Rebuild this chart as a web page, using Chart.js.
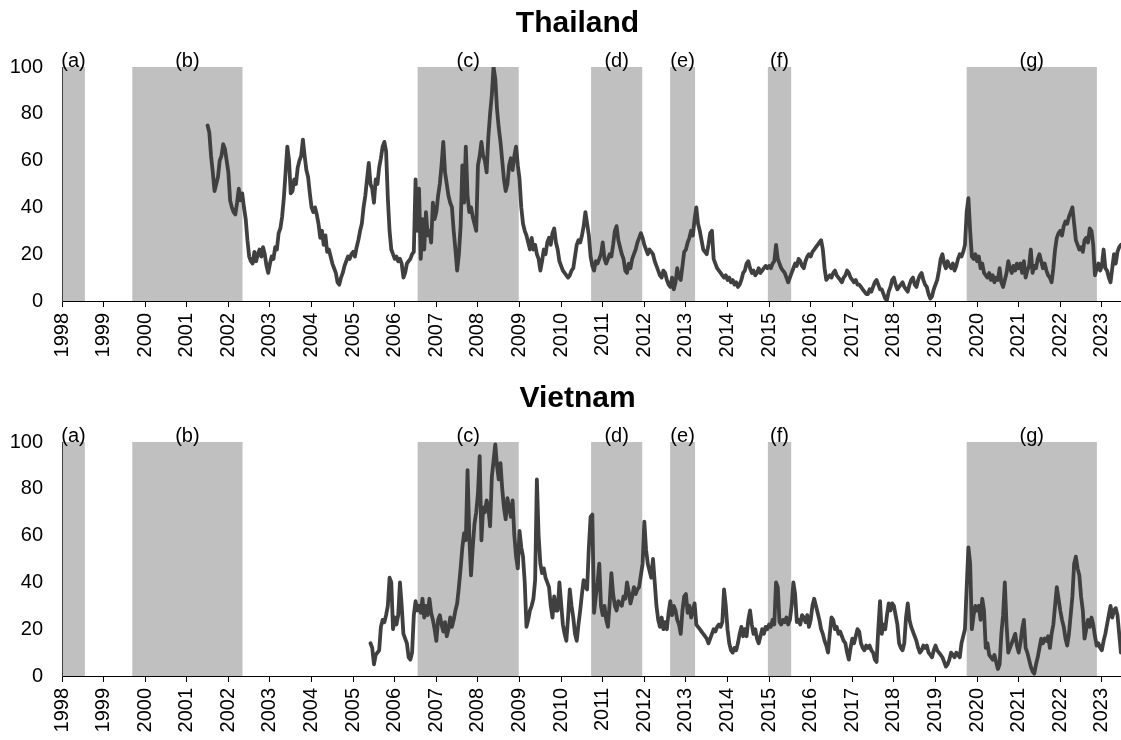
<!DOCTYPE html>
<html><head><meta charset="utf-8">
<script src="https://cdn.jsdelivr.net/npm/chart.js@4.4.1/dist/chart.umd.min.js"></script>
<style>
html,body{margin:0;padding:0;background:#fff;}
#wrap{position:relative;width:1121px;height:740px;overflow:hidden;background:#fff;}
.panel{position:absolute;left:0;width:1121px;height:361px;}
</style></head><body>
<div id="wrap">
<div class="panel" style="top:0"><canvas id="thai" width="1121" height="361"></canvas></div>
<div class="panel" style="top:375px"><canvas id="viet" width="1121" height="361"></canvas></div>
</div>
<script>
// ---- data ----
const samplesPerYear = 24;           // semi-monthly readings
const xMin = 1998, xMax = 2023.46;   // axis range (years)
const thaiStart = 2001.5;            // first Thailand reading
const vietStart = 2005 + 10/24;      // first Vietnam reading

const thaiValues = [
  75,72,62,55,47,50,53,60,62,67,65,60,                                     // 2001 H2
  55,43,40,38,37,42,48,43,46,40,35,26,19,17,16,21,17,20,22,19,23,20,15,12, // 2002
  16,19,18,23,22,29,31,36,44,55,66,60,46,47,52,50,57,60,62,69,62,56,53,46, // 2003
  40,38,40,37,33,27,30,24,28,21,22,19,16,14,12,8,7,10,12,15,17,19,18,20,   // 2004
  21,19,23,26,30,33,40,45,52,59,50,48,42,52,50,57,61,66,68,64,44,30,22,20, // 2005
  18,19,17,18,16,10,12,16,17,18,20,21,52,30,48,18,35,22,38,28,30,25,42,35, // 2006
  38,45,50,58,68,55,50,45,42,40,30,22,13,20,32,58,42,66,45,38,40,36,33,30, // 2007
  58,62,68,62,60,55,70,80,88,100,95,82,74,68,60,52,47,50,58,61,56,62,66,58,// 2008
  52,40,33,30,28,25,22,27,22,24,20,18,13,17,22,20,25,27,24,29,31,25,22,17, // 2009
  15,13,12,11,10,11,13,14,19,24,26,25,28,32,38,33,28,19,15,13,17,16,18,20, // 2010
  25,18,16,18,20,19,24,30,32,26,23,20,18,13,12,16,14,18,20,22,25,27,29,27, // 2011
  24,22,20,22,21,20,17,15,13,11,10,13,12,9,7,6,10,5,8,14,10,9,15,21,       // 2012
  22,25,27,30,28,35,40,33,30,26,22,21,20,24,29,30,18,16,14,13,12,11,10,11, // 2013
  9,10,8,9,7,8,6,7,9,12,13,16,17,14,12,13,11,12,14,12,13,14,15,14,         // 2014
  15,14,16,17,24,18,16,14,13,12,10,8,10,12,14,16,15,18,17,15,14,17,19,20,  // 2015
  19,21,22,23,24,25,26,22,14,9,10,11,10,12,13,11,10,9,8,10,11,13,12,10,    // 2016
  9,8,9,7,7,6,5,4,3,3,5,4,6,8,9,7,5,5,3,1,0.5,4,6,9,                       // 2017
  10,7,5,6,7,8,6,5,4,7,9,10,7,6,9,11,12,9,7,6,3,1,2,5,                     // 2018
  7,9,13,18,20,16,14,17,15,14,16,13,15,18,20,19,21,24,38,44,30,19,18,20,   // 2019
  17,19,14,16,12,11,10,12,9,11,8,10,9,14,8,6,9,12,17,14,12,15,13,16,       // 2020
  14,16,12,17,10,13,15,22,12,15,14,18,20,17,14,16,13,11,10,8,14,22,27,29,  // 2021
  30,28,32,34,33,36,38,40,33,26,24,22,23,21,26,27,25,31,30,24,11,14,16,13, // 2022
  15,22,14,13,10,8,14,20,16,21,23,24                                       // 2023 H1
];

const vietValues = [
  14,12,5,9,10,11,21,24,23,26,30,42,40,20,                                 // 2005
  25,22,26,40,30,18,16,14,8,7,10,26,32,28,30,27,33,25,30,26,33,27,24,20,   // 2006
  15,24,26,22,19,23,17,20,25,21,24,28,31,38,46,55,61,58,88,60,43,55,65,70, // 2007
  78,94,58,72,70,75,72,64,85,92,99,90,84,91,80,72,67,76,72,68,75,60,51,46, // 2008
  62,55,51,40,21,24,28,30,33,41,84,60,48,44,46,42,40,38,30,25,34,28,28,40, // 2009
  31,22,18,15,25,37,30,25,18,15,22,28,35,41,38,37,55,68,69,27,34,40,48,30, // 2010
  26,30,24,21,31,44,35,30,28,32,31,30,34,33,40,36,31,34,38,35,37,38,43,48, // 2011
  66,54,48,45,42,50,40,30,24,21,25,20,23,20,27,32,26,30,28,24,22,18,28,34, // 2012
  35,27,30,25,28,31,22,21,20,19,18,17,16,14,16,18,20,19,21,22,21,23,37,30, // 2013
  20,14,11,10,12,11,14,18,21,17,20,17,24,28,22,18,20,16,14,17,20,18,21,20, // 2014
  22,21,24,22,40,38,23,22,24,23,25,22,24,30,40,35,23,24,22,26,25,23,26,21, // 2015
  24,30,33,30,27,24,20,18,15,13,10,18,25,24,20,21,18,19,17,15,14,10,7,12,  // 2016
  16,14,17,20,19,14,12,11,13,12,13,11,10,7,6,20,32,18,22,20,26,31,28,31,   // 2017
  30,26,22,14,12,11,14,25,31,24,21,19,17,15,12,10,11,13,12,13,10,9,8,11,   // 2018
  13,11,10,9,8,6,4,5,7,10,9,8,10,9,8,14,17,20,38,55,48,20,26,30,           // 2019
  28,30,24,33,28,12,14,9,8,7,9,6,3,5,18,26,40,22,10,12,14,16,18,13,        // 2020
  10,14,20,24,12,10,7,4,2,1,5,8,12,16,14,16,15,17,12,18,22,30,38,33,       // 2021
  28,24,21,16,13,18,26,34,48,51,46,43,34,28,16,20,24,21,25,22,17,13,14,12, // 2022
  11,15,18,22,26,30,25,28,29,26,18,10                                      // 2023 H1
];

// shaded episodes
const regionLabels = ['(a)','(b)','(c)','(d)','(e)','(f)','(g)'];
const regionStart  = [1998.0, 1999.69, 2006.55, 2010.72, 2012.62, 2014.97, 2019.75];
const regionEnd    = [1998.55, 2002.34, 2008.98, 2011.95, 2013.22, 2015.53, 2022.88];

// ---- drawing ----
const FONT = "'Liberation Sans', Arial, Helvetica, sans-serif";
Chart.defaults.font.family = FONT;

const panelDecor = {
  id: 'panelDecor',
  beforeDraw(chart) {
    const {ctx, scales: {x, y}} = chart;
    const yt = y.getPixelForValue(100), yb = y.getPixelForValue(0);
    ctx.save();
    ctx.fillStyle = '#c0c0c0';
    for (let i = 0; i < regionLabels.length; i++) {
      const x0 = x.getPixelForValue(regionStart[i]);
      const x1 = x.getPixelForValue(regionEnd[i]);
      ctx.fillRect(x0, yt, x1 - x0, yb - yt);
    }
    ctx.restore();
  },
  afterDraw(chart, args, opts) {
    const {ctx, chartArea, scales: {x, y}} = chart;
    const yt = y.getPixelForValue(100);
    ctx.save();
    ctx.fillStyle = '#000';
    ctx.textAlign = 'center';
    ctx.textBaseline = 'alphabetic';
    ctx.font = '20px ' + FONT;
    for (let i = 0; i < regionLabels.length; i++) {
      const cx = (x.getPixelForValue(regionStart[i]) + x.getPixelForValue(regionEnd[i])) / 2;
      ctx.fillText(regionLabels[i], cx, yt);
    }
    ctx.font = 'bold 30px ' + FONT;
    ctx.fillText(opts.text, (chartArea.left + chartArea.right) / 2 - 14, 32);
    ctx.restore();
  }
};

function makeChart(id, title, values, start) {
  const pts = values.map((v, i) => ({x: start + i / samplesPerYear, y: v}));
  return new Chart(document.getElementById(id), {
    type: 'line',
    data: {datasets: [{
      data: pts, borderColor: '#404040', borderWidth: 3.8, pointRadius: 0,
      tension: 0, fill: false, borderJoinStyle: 'round', borderCapStyle: 'round'
    }]},
    options: {
      responsive: false, animation: false, devicePixelRatio: 1,
      layout: {padding: {top: 67, left: 0, right: 0, bottom: 0}},
      plugins: {legend: {display: false}, tooltip: {enabled: false}, title: {display: false},
                panelDecor: {text: title}},
      scales: {
        x: {
          type: 'linear', min: xMin, max: xMax,
          afterFit(s) { s.height = 60; s.paddingLeft = 0; s.paddingRight = 0; },
          grid: {drawOnChartArea: false, drawTicks: true, tickLength: 6, color: '#000'},
          border: {display: true, color: '#000', width: 1},
          ticks: {stepSize: 1, includeBounds: false, autoSkip: false, minRotation: 90, maxRotation: 90,
                  padding: 6, color: '#000', font: {size: 20}, callback: v => String(Math.round(v))}
        },
        y: {
          min: 0, max: 100,
          afterFit(s) { s.width = 62; s.paddingTop = 0; s.paddingBottom = 0; },
          grid: {drawOnChartArea: false, drawTicks: false},
          border: {display: true, color: '#404040', width: 1},
          ticks: {stepSize: 20, padding: 19, color: '#000', font: {size: 20}}
        }
      }
    },
    plugins: [panelDecor]
  });
}

makeChart('thai', 'Thailand', thaiValues, thaiStart);
makeChart('viet', 'Vietnam', vietValues, vietStart);
</script>
</body></html>
